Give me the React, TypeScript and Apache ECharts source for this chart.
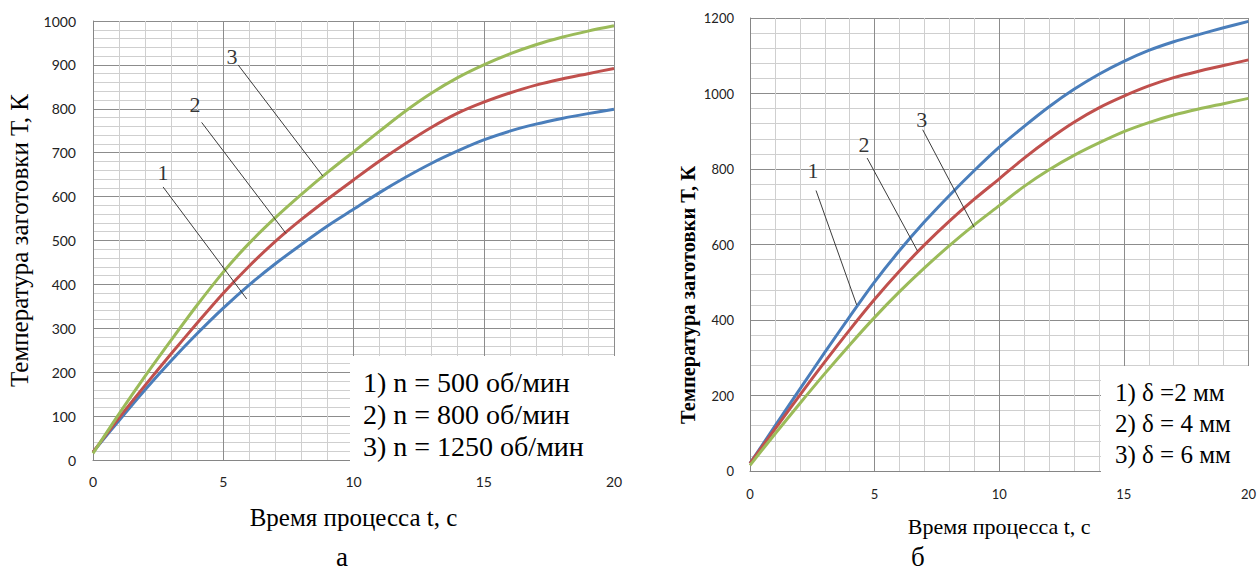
import React, { useEffect, useRef } from "react";
import * as echarts from "echarts";

// time axis (s)
const T = [0, 1, 2, 3, 4, 5, 6, 7, 8, 9, 10, 11, 12, 13, 14, 15, 16, 17, 18, 19, 20];

// chart а: n = 500 / 800 / 1250 об/мин
const blueA = [18, 90, 160, 226, 288, 346, 399, 447, 491, 533, 571, 609, 644, 676, 704, 729, 749, 765, 778, 789, 799];
const redA = [18, 96, 170, 242, 312, 380, 442, 498, 548, 594, 638, 681, 721, 758, 790, 815, 836, 854, 868, 880, 892];
const greenA = [15, 105, 191, 273, 353, 428, 494, 552, 605, 655, 702, 749, 795, 836, 871, 900, 925, 946, 963, 977, 989];

// chart б: δ = 2 / 4 / 6 мм
const blueB = [20, 119, 217, 314, 409, 501, 584, 660, 730, 796, 858, 913, 965, 1011, 1051, 1085, 1114, 1137, 1156, 1174, 1191];
const redB = [20, 111, 201, 289, 374, 455, 530, 599, 662, 720, 774, 829, 879, 924, 962, 993, 1020, 1042, 1059, 1074, 1089];
const greenB = [15, 98, 179, 258, 334, 407, 475, 538, 597, 652, 703, 754, 798, 836, 869, 899, 923, 943, 959, 973, 987];

// leader-line annotations [t1, v1, t2, v2] and label points [t, v, text]
const leadersA = [
  [2.69, 622, 5.9, 367],
  [4.17, 769, 7.41, 516],
  [5.57, 900, 8.82, 647],
];
const labelsA = [
  [2.69, 654, "1"],
  [3.92, 809, "2"],
  [5.34, 918, "3"],
];
const leadersB = [
  [2.65, 743, 4.28, 440],
  [4.7, 829, 6.72, 583],
  [6.93, 904, 8.99, 646],
];
const labelsB = [
  [2.53, 795, "1"],
  [4.57, 866, "2"],
  [6.89, 930, "3"],
];

const legendA = ["1) n = 500 об/мин", "2) n = 800 об/мин", "3) n = 1250 об/мин"];
const legendB = ["1) δ =2 мм", "2) δ = 4 мм", "3) δ = 6 мм"];
const X_NAME = "Время процесса t, с";
const Y_NAME = "Температура заготовки Т, К";

const COLORS = ["#4a7ebb", "#c0504d", "#9bbb59"];
const SERIF = "Liberation Serif";

function xAxis(gridIndex: number, margin: number, fontSize: number, nameSize: number, nameGap: number) {
  return {
    gridIndex,
    type: "value",
    min: 0,
    max: 20,
    interval: 5,
    name: X_NAME,
    nameLocation: "middle",
    nameGap,
    nameTextStyle: { fontFamily: SERIF, fontSize: nameSize, color: "#000" },
    axisLine: { show: true, lineStyle: { color: "#868686", width: 1 } },
    axisTick: { show: false },
    axisLabel: { fontFamily: "Lato", fontSize, color: "#222", margin, formatter: (v: number) => String(v) },
    splitLine: { show: true, lineStyle: { color: "#8c8c8c", width: 1 } },
    minorTick: { show: false, splitNumber: 5 },
    minorSplitLine: { show: true, lineStyle: { color: "#cfcfcf", width: 1 } },
  };
}

function yAxis(
  gridIndex: number,
  max: number,
  interval: number,
  margin: number,
  fontSize: number,
  nameStyle: any,
  nameGap: number
) {
  return {
    gridIndex,
    type: "value",
    min: 0,
    max,
    interval,
    name: Y_NAME,
    nameLocation: "middle",
    nameRotate: 90,
    nameGap,
    nameTextStyle: nameStyle,
    axisLine: { show: true, lineStyle: { color: "#868686", width: 1 } },
    axisTick: { show: false },
    axisLabel: { fontFamily: "Lato", fontSize, color: "#222", margin, formatter: (v: number) => String(v) },
    splitLine: { show: true, lineStyle: { color: "#8c8c8c", width: 1 } },
    minorTick: { show: false, splitNumber: 5 },
    minorSplitLine: { show: true, lineStyle: { color: "#cfcfcf", width: 1 } },
  };
}

function curve(arr: number[], idx: number, color: string) {
  return {
    type: "line",
    xAxisIndex: idx,
    yAxisIndex: idx,
    data: T.map((t, i) => [t, arr[i]]),
    smooth: 0.3,
    showSymbol: false,
    symbol: "none",
    lineStyle: { color, width: 3 },
    itemStyle: { color },
    z: 3,
  };
}

function leaders(list: number[][], idx: number) {
  return list.map((l) => ({
    type: "line",
    xAxisIndex: idx,
    yAxisIndex: idx,
    data: [
      [l[0], l[1]],
      [l[2], l[3]],
    ],
    showSymbol: false,
    symbol: "none",
    lineStyle: { color: "#3c3c3c", width: 1 },
    z: 4,
    silent: true,
  }));
}

function labels(list: any[], idx: number, fontSize: number) {
  return {
    type: "scatter",
    xAxisIndex: idx,
    yAxisIndex: idx,
    data: list.map((l) => [l[0], l[1], l[2]]),
    symbolSize: 1,
    itemStyle: { color: "rgba(0,0,0,0)" },
    label: {
      show: true,
      position: "inside",
      formatter: (p: any) => p.value[2],
      fontFamily: SERIF,
      fontSize,
      color: "#000",
    },
    z: 5,
    silent: true,
  };
}

function title(text: string, left: number, top: number, fontSize: number, lineHeight: number) {
  return {
    text,
    left,
    top,
    padding: 0,
    z: 12,
    textStyle: { fontFamily: SERIF, fontSize, fontWeight: "normal", color: "#000", lineHeight },
  };
}

export default function App() {
  const ref = useRef<HTMLDivElement>(null);
  useEffect(() => {
    if (!ref.current) return;
    const chart = echarts.init(ref.current, undefined, { renderer: "svg" });
    chart.setOption({
      animation: false,
      backgroundColor: "#fff",
      textStyle: { fontFamily: SERIF },
      title: [
        title(legendA.join("\n"), 363, 366, 28, 32),
        title(legendB.join("\n"), 1115, 377, 25, 31),
        title("а", 336, 544, 27, 26),
        title("б", 911, 544, 27, 26),
      ],
      grid: [
        { left: 93, top: 21, width: 521, height: 439, containLabel: false },
        { left: 750, top: 18, width: 499, height: 453, containLabel: false },
      ],
      xAxis: [xAxis(0, 14, 14, 25, 45), xAxis(1, 16, 13, 22, 44)],
      yAxis: [
        yAxis(0, 1000, 100, 17, 14, { fontFamily: SERIF, fontSize: 25, color: "#000" }, 61),
        yAxis(
          1,
          1200,
          200,
          16,
          13,
          { fontFamily: SERIF, fontSize: 20.5, fontWeight: "bold", color: "#000", padding: [0, 101, 0, 0] },
          52
        ),
      ],
      series: [
        curve(blueA, 0, COLORS[0]),
        curve(redA, 0, COLORS[1]),
        curve(greenA, 0, COLORS[2]),
        curve(blueB, 1, COLORS[0]),
        curve(redB, 1, COLORS[1]),
        curve(greenB, 1, COLORS[2]),
        ...leaders(leadersA, 0),
        ...leaders(leadersB, 1),
        labels(labelsA, 0, 22),
        labels(labelsB, 1, 22),
      ],
      graphic: [
        { type: "rect", shape: { x: 350, y: 356, width: 268, height: 106 }, style: { fill: "#fff" }, z: 10 },
        { type: "rect", shape: { x: 1101, y: 366, width: 158, height: 106 }, style: { fill: "#fff" }, z: 10 },
      ],
    });
    return () => chart.dispose();
  }, []);
  return (
    <div
      ref={ref}
      style={{ position: "absolute", left: 0, top: 0, width: 1259, height: 573, background: "#fff" }}
    />
  );
}
